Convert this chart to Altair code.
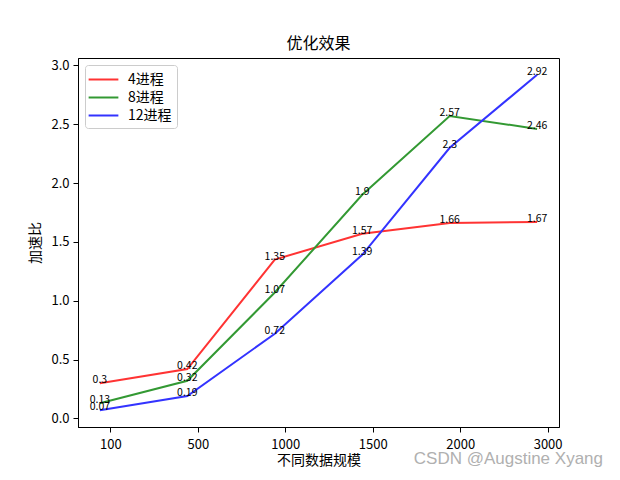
import pandas as pd
import altair as alt

# x categories (equally spaced positions 0..5)
sizes = ["100", "500", "1000", "1500", "2000", "3000"]
series = ["4进程", "8进程", "12进程"]
speedup_4 = [0.3, 0.42, 1.35, 1.57, 1.66, 1.67]
speedup_8 = [0.13, 0.32, 1.07, 1.9, 2.57, 2.46]
speedup_12 = [0.07, 0.19, 0.72, 1.39, 2.3, 2.92]
colors = ["#ff3333", "#339933", "#3333ff"]
watermark = "CSDN @Augstine Xyang"

rows = []
for name, vals in zip(series, [speedup_4, speedup_8, speedup_12]):
    for i, v in enumerate(vals):
        rows.append({"series": name, "idx": i, "value": v, "label": str(v)})
df = pd.DataFrame(rows)

FONT = "Noto Sans CJK SC"
tick_shift = 0.12
label_list = "[" + ",".join("'%s'" % s for s in sizes) + "]"

x = alt.X(
    "idx:Q",
    scale=alt.Scale(domain=[-0.25, 5.25], nice=False, zero=False),
    axis=alt.Axis(
        values=[i + tick_shift for i in range(len(sizes))],
        labelExpr=label_list + "[round(datum.value - %s)]" % tick_shift,
        title="不同数据规模",
    ),
)
y = alt.Y(
    "value:Q",
    scale=alt.Scale(domain=[-0.0725, 3.0625], nice=False, zero=False),
    axis=alt.Axis(values=[0, 0.5, 1.0, 1.5, 2.0, 2.5, 3.0], format=".1f", title="加速比"),
)
color = alt.Color(
    "series:N",
    scale=alt.Scale(domain=series, range=colors),
    sort=series,
    legend=alt.Legend(
        title=None,
        orient="none",
        legendX=7,
        legendY=7,
        # wide flat line symbol, short row height
        symbolType="M-1.75,0H1.75",
        symbolSize=289,
        symbolStrokeWidth=2,
        symbolOffset=4,
        labelFontSize=14,
        labelFont=FONT,
        labelOffset=15,
        rowPadding=1,
        padding=5,
        fillColor="white",
        strokeColor="#cccccc",
        cornerRadius=3,
    ),
)

lines = alt.Chart(df).mark_line(strokeWidth=2).encode(x=x, y=y, color=color)

labels = alt.Chart(df).mark_text(
    font=FONT, fontSize=10.5, color="black", align="center", baseline="alphabetic"
).encode(x="idx:Q", y="value:Q", text="label:N")

mark = alt.Chart(pd.DataFrame({"t": [watermark]})).mark_text(
    font="Liberation Sans", fontSize=17, color="#b0b0b0", align="right", baseline="alphabetic"
).encode(x=alt.value(525), y=alt.value(406), text="t:N")

chart = (
    alt.layer(lines, labels, mark)
    .properties(
        width=481,
        height=369,
        title=alt.TitleParams("优化效果", font=FONT, fontSize=16, fontWeight="normal", offset=6),
        autosize=alt.AutoSizeParams(type="none"),
        padding={"left": 70, "top": 50, "right": 50, "bottom": 40},
    )
    .configure_view(stroke="black", strokeWidth=1)
    .configure_axis(
        grid=False,
        domainColor="black",
        tickColor="black",
        tickSize=5,
        labelFont=FONT,
        labelFontSize=13,
        labelColor="black",
        titleFont=FONT,
        titleFontSize=14,
        titleFontWeight="normal",
        titleColor="black",
    )
    .configure_axisX(labelPadding=6, titlePadding=2)
    .configure_axisY(labelPadding=4, titlePadding=8)
)

chart.save("out.html", embed_options={"renderer": "svg", "actions": False})
